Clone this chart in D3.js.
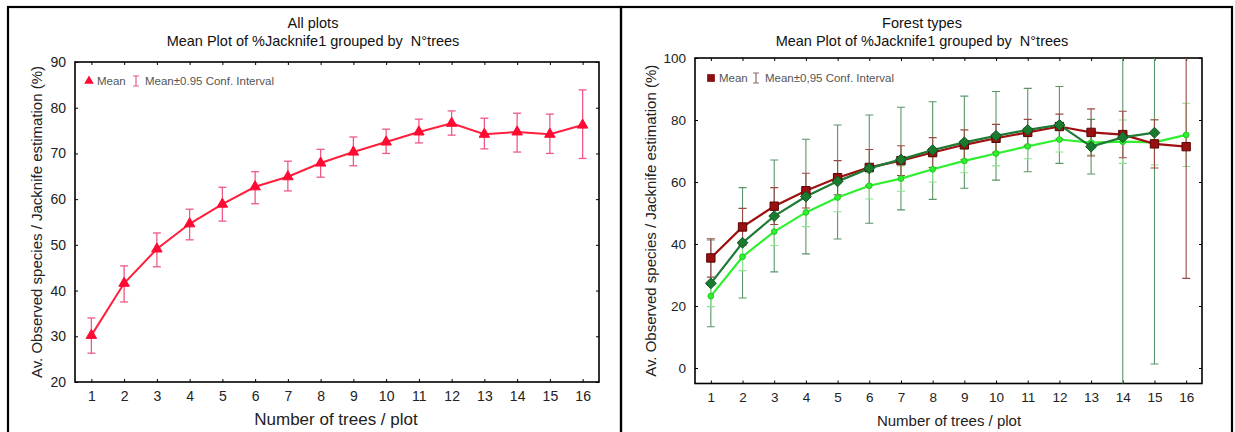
<!DOCTYPE html>
<html><head><meta charset="utf-8">
<script src="https://cdn.jsdelivr.net/npm/d3@7"></script>
<style>body{margin:0;background:#fff;} svg{display:block;font-family:Arial,"Liberation Sans",sans-serif;}</style>
</head><body>
<svg id="c" width="1235" height="432"></svg>
<script>
// ---------- data ----------
const nTrees = [1,2,3,4,5,6,7,8,9,10,11,12,13,14,15,16];

// All plots
const allMean  = [30.2,41.6,49.1,54.6,58.9,62.7,64.9,67.9,70.3,72.5,74.7,76.6,74.2,74.7,74.2,76.2];
const allLow   = [26.3,37.5,45.2,51.1,55.2,59.0,61.8,64.8,67.3,70.0,72.3,74.0,71.0,70.3,70.0,68.9];
const allHigh  = [34.0,45.4,52.6,57.8,62.6,66.0,68.3,70.9,73.6,75.3,77.5,79.3,77.7,78.8,78.6,83.9];

// Forest types: dark red (squares)
const redMean  = [35.5,45.5,52.2,57.2,61.4,64.7,66.9,69.5,72.0,74.1,76.0,77.9,76.0,75.3,72.3,71.4];
const redLow   = [29.3,39.5,46.3,51.6,55.9,58.9,62.1,64.7,67.2,69.6,71.8,73.9,68.4,67.8,64.5,28.9];
const redHigh  = [41.7,51.5,58.2,62.8,66.9,70.5,71.7,74.3,76.8,78.6,80.2,81.9,83.6,82.8,80.1,113.9];

// Forest types: dark green (diamonds), no value at 16
const dgX      = [1,2,3,4,5,6,7,8,9,10,11,12,13,14,15];
const dgMean   = [27.3,40.4,49.0,55.3,60.2,64.4,67.3,70.3,72.8,74.9,76.8,78.4,71.4,74.4,75.9];
const dgLow    = [13.3,22.6,31.0,36.8,41.6,46.7,51.0,54.4,58.0,60.6,63.3,66.0,62.6,-40,1.3];
const dgHigh   = [41.3,58.2,67.1,73.8,78.4,81.6,84.1,85.9,87.7,89.2,90.2,90.8,80.2,189,150.5];

// Forest types: light green (circles)
const lgMean   = [23.2,35.9,44.0,50.2,55.0,58.8,61.1,64.1,66.8,69.2,71.5,73.7,72.7,73.0,72.8,75.2];
const lgLow    = [19.8,31.4,39.5,45.6,50.4,54.5,57.0,60.0,63.0,65.2,67.5,69.7,68.7,66.0,65.5,65.0];
const lgHigh   = [26.6,40.4,48.5,54.8,59.6,63.0,65.2,68.2,70.6,73.2,75.5,77.7,76.7,80.0,80.0,85.4];

const yTicksLeft  = [20,30,40,50,60,70,80,90];
const yTicksRight = [0,20,40,60,80,100];

const svg = d3.select("#c");

// panel frames
svg.append("rect").attr("x",8).attr("y",7).attr("width",613).attr("height",450)
  .attr("fill","none").attr("stroke","#000").attr("stroke-width",2.2);
svg.append("rect").attr("x",621).attr("y",7).attr("width",611).attr("height",450)
  .attr("fill","none").attr("stroke","#000").attr("stroke-width",2.2);

function panel(o){
  const g = svg.append("g");
  const x = d3.scaleLinear().domain([0.5,16.5]).range([o.left,o.right]);
  const y = d3.scaleLinear().domain(o.yDomain).range([o.bottom,o.top]);
  const id = "clip"+o.key;
  svg.append("clipPath").attr("id",id).append("rect")
    .attr("x",o.left).attr("y",o.top).attr("width",o.right-o.left).attr("height",o.bottom-o.top);

  // titles
  g.append("text").attr("x",o.tcx).attr("y",28).attr("text-anchor","middle")
    .attr("font-size",14.5).attr("fill","#111").text(o.title1);
  g.append("text").attr("x",o.tcx).attr("y",46).attr("text-anchor","middle")
    .attr("font-size",14.5).attr("fill","#111").text("Mean Plot of %Jacknife1 grouped by \u00A0N\u00B0trees");

  // axes (inward tiny ticks)
  const bottomAxis = d3.axisBottom(x).tickValues(nTrees).tickSize(-3).tickPadding(9).tickFormat(d3.format("d"));
  const topAxis = d3.axisTop(x).tickValues(nTrees).tickSize(-3).tickFormat("");
  const leftAxis = d3.axisLeft(y).tickValues(o.yTicks).tickSize(-3).tickPadding(9).tickFormat(d3.format("d"));
  const rightAxis = d3.axisRight(y).tickValues(o.yTicks).tickSize(-3).tickFormat("");
  const styleAx = (s,fs)=>{ s.select(".domain").remove(); s.selectAll("line").attr("stroke","#000");
    s.selectAll("text").attr("font-size",fs).attr("fill","#222").attr("font-family","Arial,'Liberation Sans',sans-serif"); };
  g.append("g").attr("transform",`translate(0,${o.bottom})`).call(bottomAxis).call(s=>styleAx(s,o.tickFs));
  g.append("g").attr("transform",`translate(0,${o.top})`).call(topAxis).call(s=>styleAx(s,o.tickFs));
  g.append("g").attr("transform",`translate(${o.left},0)`).call(leftAxis).call(s=>styleAx(s,o.tickFs));
  g.append("g").attr("transform",`translate(${o.right},0)`).call(rightAxis).call(s=>styleAx(s,o.tickFs));
  g.append("rect").attr("x",o.left).attr("y",o.top).attr("width",o.right-o.left).attr("height",o.bottom-o.top)
    .attr("fill","none").attr("stroke","#000").attr("stroke-width",1.6);

  // axis titles
  g.append("text").attr("transform",`translate(${o.ytx},${(o.top+o.bottom)/2}) rotate(-90)`)
    .attr("text-anchor","middle").attr("dominant-baseline","middle").attr("font-size",15).attr("fill","#222")
    .text("Av. Observed species / Jacknife estimation (%)");
  g.append("text").attr("x",o.xtcx).attr("y",o.xty).attr("text-anchor","middle")
    .attr("font-size",o.xtFs).attr("fill","#222").text("Number of trees / plot");

  const plot = g.append("g").attr("clip-path",`url(#${id})`);
  return {g,plot,x,y};
}

function errorBars(p, xs, lo, hi, color, w){
  const cap = 4;
  const eb = p.plot.append("g").attr("stroke",color).attr("stroke-width",w).attr("fill","none");
  xs.forEach((xv,i)=>{
    const cx = p.x(xv), y1 = p.y(lo[i]), y2 = p.y(hi[i]);
    eb.append("line").attr("x1",cx).attr("x2",cx).attr("y1",y1).attr("y2",y2);
    eb.append("line").attr("x1",cx-cap).attr("x2",cx+cap).attr("y1",y1).attr("y2",y1);
    eb.append("line").attr("x1",cx-cap).attr("x2",cx+cap).attr("y1",y2).attr("y2",y2);
  });
}
function meanLine(p, xs, m, color, w){
  const line = d3.line().x((d,i)=>p.x(xs[i])).y(d=>p.y(d));
  p.plot.append("path").datum(m).attr("d",line).attr("fill","none").attr("stroke",color).attr("stroke-width",w);
}
function markers(p, xs, m, sym, size, fill, stroke){
  p.plot.append("g").selectAll("path").data(m).join("path")
    .attr("transform",(d,i)=>`translate(${p.x(xs[i])},${p.y(d)})`)
    .attr("d",d3.symbol().type(sym).size(size)).attr("fill",fill)
    .attr("stroke",stroke).attr("stroke-width",1);
}

// ---------- left panel ----------
const L = panel({key:"L", left:75, right:599, top:62, bottom:382, yDomain:[20,90], yTicks:yTicksLeft,
  tcx:313, title1:"All plots", tickFs:14, ytx:38, xtcx:336, xty:425, xtFs:17});
errorBars(L, nTrees, allLow, allHigh, "#ee5a84", 1.3);
meanLine(L, nTrees, allMean, "#ff1f3d", 2);
markers(L, nTrees, allMean, d3.symbolTriangle, 48, "#ff0a33", "#ff0a33");
// legend
L.g.append("path").attr("transform","translate(89,81)").attr("d",d3.symbol().type(d3.symbolTriangle).size(40)).attr("fill","#ff0a33");
L.g.append("text").attr("x",97).attr("y",85).attr("font-size",11.5).attr("fill","#555").text("Mean");
L.g.append("path").attr("d","M133,76H139M136,76V86M133,86H139").attr("stroke","#ee5a84").attr("stroke-width",1.2).attr("fill","none");
L.g.append("text").attr("x",145).attr("y",85).attr("font-size",11.5).attr("fill","#555").text("Mean\u00B10.95 Conf. Interval");

// ---------- right panel ----------
const R = panel({key:"R", left:695, right:1202, top:58, bottom:383.5, yDomain:[-5,100], yTicks:yTicksRight,
  tcx:922, title1:"Forest types", tickFs:13.5, ytx:652, xtcx:949, xty:426, xtFs:15});
errorBars(R, dgX, dgLow, dgHigh, "#5a9468", 1.1);
errorBars(R, nTrees, lgLow, lgHigh, "#8fe092", 1.1);
errorBars(R, nTrees, redLow, redHigh, "#9a4a45", 1.1);
meanLine(R, nTrees, lgMean, "#2ef02e", 2.2);
meanLine(R, nTrees, redMean, "#a01010", 2.2);
meanLine(R, dgX, dgMean, "#1f7a35", 2.2);
markers(R, nTrees, lgMean, d3.symbolCircle, 26, "#2ef02e", "#22c822");
markers(R, nTrees, redMean, d3.symbolSquare, 70, "#9a0f0f", "#5a0505");
markers(R, dgX, dgMean, d3.symbolDiamond2, 75, "#1a7a30", "#105a20");
// legend
R.g.append("path").attr("transform","translate(711,78)").attr("d",d3.symbol().type(d3.symbolSquare).size(60)).attr("fill","#8a0f0f");
R.g.append("text").attr("x",719).attr("y",82).attr("font-size",11.5).attr("fill","#555").text("Mean");
R.g.append("path").attr("d","M753,73H759M756,73V83M753,83H759").attr("stroke","#8a6a6a").attr("stroke-width",1.2).attr("fill","none");
R.g.append("text").attr("x",765).attr("y",82).attr("font-size",11.5).attr("fill","#555").text("Mean\u00B10,95 Conf. Interval");
</script>
</body></html>
